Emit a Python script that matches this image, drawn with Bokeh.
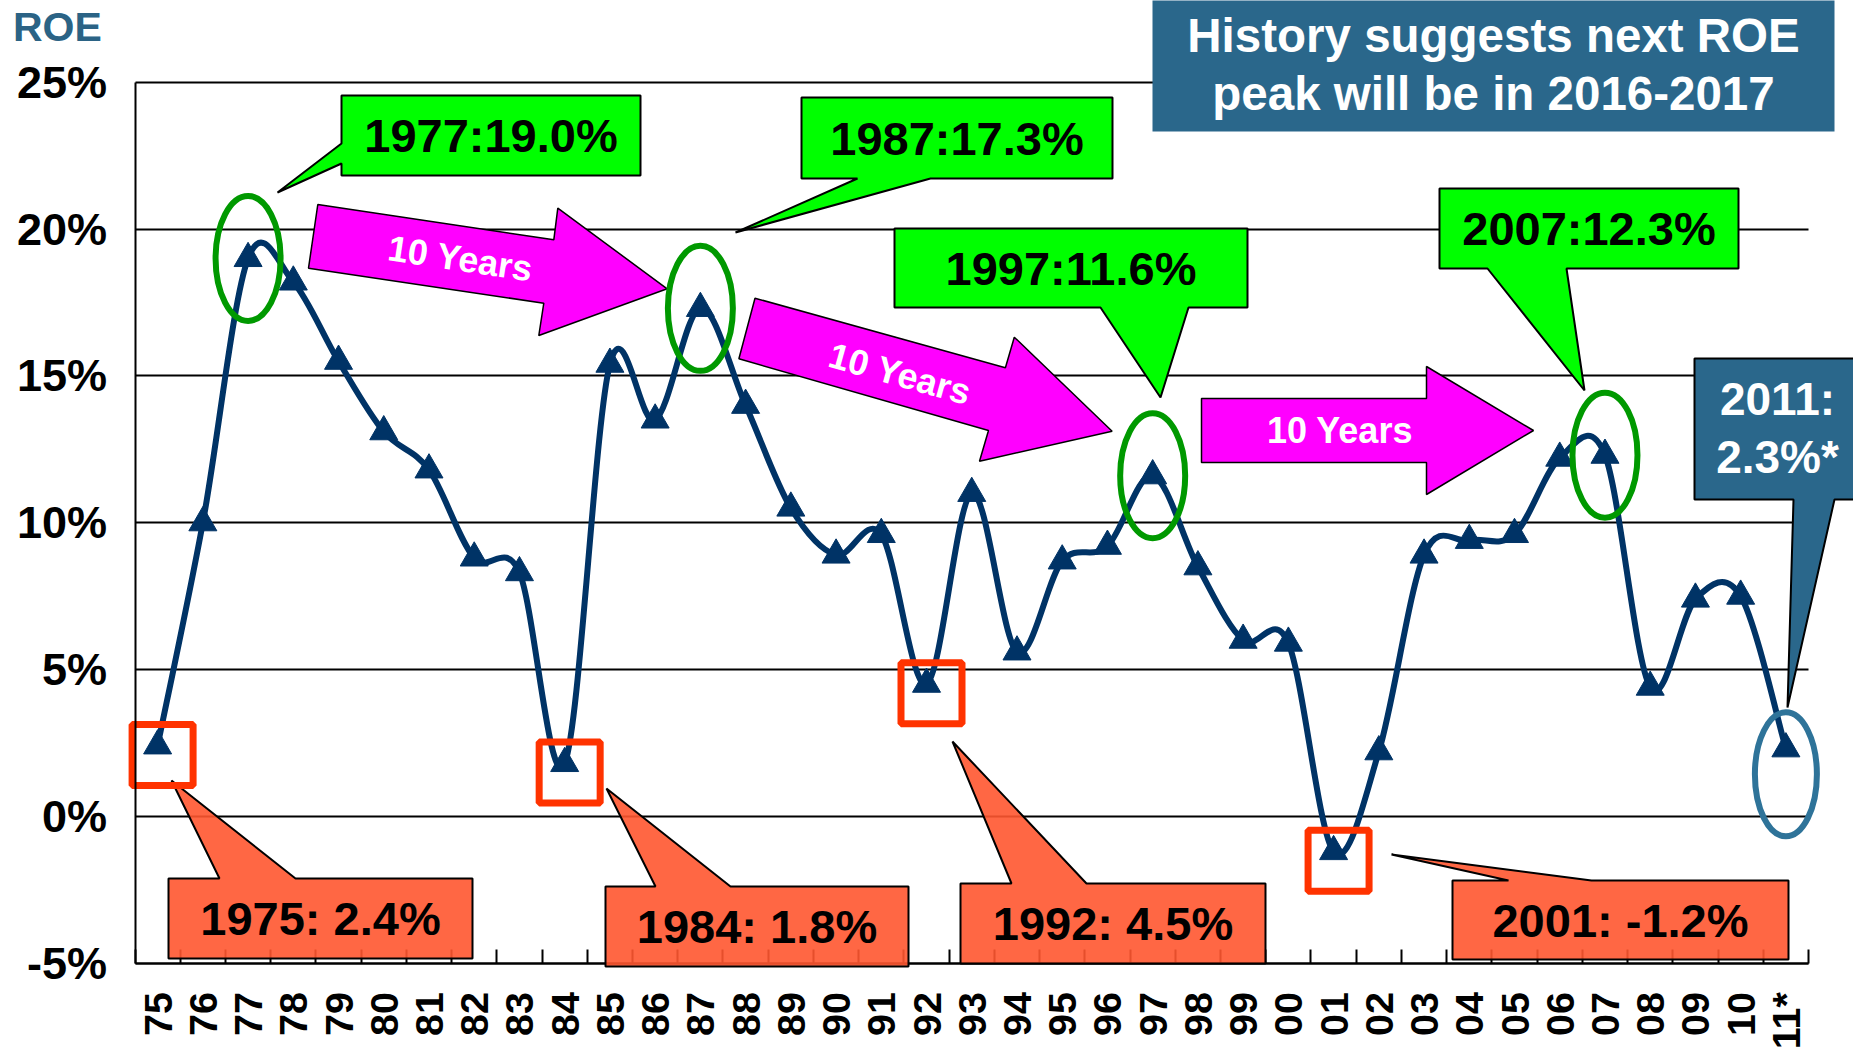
import numpy as np
from bokeh.plotting import figure
from bokeh.models import Range1d, FixedTicker
from bokeh.core.properties import value
from bokeh.embed import file_html
from bokeh.resources import INLINE

# ---------------- data ----------------
years = ["75", "76", "77", "78", "79", "80", "81", "82", "83", "84", "85", "86",
         "87", "88", "89", "90", "91", "92", "93", "94", "95", "96", "97", "98",
         "99", "00", "01", "02", "03", "04", "05", "06", "07", "08", "09", "10", "11*"]
full_years = [1975 + i for i in range(len(years))]
roe = [2.4, 10.0, 19.0, 18.2, 15.5, 13.1, 11.8, 8.8, 8.3, 1.8, 15.4, 13.5,
       17.3, 14.0, 10.5, 8.9, 9.6, 4.5, 11.0, 5.6, 8.7, 9.2, 11.6, 8.5,
       6.0, 5.9, -1.2, 2.2, 8.9, 9.4, 9.6, 12.2, 12.3, 4.4, 7.4, 7.5, 2.3]
y_ticks = [-5, 0, 5, 10, 15, 20, 25]
y_tick_labels = ["-5%", "0%", "5%", "10%", "15%", "20%", "25%"]

peak_years = ["77", "87", "97", "07"]
trough_years = ["75", "84", "92", "01"]
latest_year = "11*"
arrow_text = "10 Years"
title_lines = ["History suggests next ROE", "peak will be in 2016-2017"]
axis_title = "ROE"

# ---------------- layout (page pixels) ----------------
LEFT, BAND, TOP25, PPP = 134.5, 45.23, 81.8, 29.36
W, H = 1853, 1052
ORIGIN = 0


def dx(px):
    return (px - LEFT) / BAND - 0.5


def dy(py):
    return 25 - (py - TOP25) / PPP


def poly(pts):
    return [dx(a) for a, b in pts], [dy(b) for a, b in pts]


NAVY = "#003366"
GREEN_FILL = "#00FF00"
ORANGE_FILL = "#FF5730"
MAGENTA = "#FF00FF"
STEEL = "#2A678B"
FONT = "Liberation Sans"

green_boxes = [
    [(341, 95), (640, 95), (640, 175), (341, 175), (341, 163), (277, 192), (341, 143)],
    [(801, 97), (1112, 97), (1112, 178), (930, 178), (735, 232), (857, 178), (801, 178)],
    [(894, 228), (1247, 228), (1247, 307), (1188, 307), (1160, 397), (1100, 307), (894, 307)],
    [(1439, 188), (1738, 188), (1738, 268), (1566, 268), (1584, 390), (1487, 268), (1439, 268)],
]
green_text_pos = [(490.5, 135), (956.5, 137.5), (1070.5, 267.5), (1588.5, 228)]

orange_boxes = [
    [(168, 878), (219, 878), (171, 780), (295, 878), (472, 878), (472, 958), (168, 958)],
    [(605, 886), (655, 886), (606, 788), (730, 886), (908, 886), (908, 966), (605, 966)],
    [(960, 883), (1011, 883), (952, 741), (1086, 883), (1265, 883), (1265, 963), (960, 963)],
    [(1452, 880), (1508, 880), (1391, 854), (1591, 880), (1788, 880), (1788, 959), (1452, 959)],
]
orange_text_pos = [(320, 918), (756.5, 926), (1112.5, 923), (1620, 919.5)]

blue_box = [(1694, 358), (1860, 358), (1860, 499), (1834, 499), (1787, 707), (1793, 499), (1694, 499)]
blue_text_pos = [(1777, 398.5), (1777, 456.8)]
title_box = [(1152, -10), (1834, -10), (1834, 131), (1152, 131)]
title_text_pos = [(1493, 35), (1493, 93)]

arrows = [
    [(317.3, 204), (553.3, 239.3), (557.3, 207.7), (666.7, 288.3), (538.3, 335), (543.3, 302.7), (308, 267.7)],
    [(754.5, 297.7), (1004.9, 367.3), (1013.8, 336.7), (1111.6, 430.7), (979, 460.7), (988, 430), (738.4, 358.3)],
    [(1201, 398), (1426, 398), (1426, 366), (1533, 430), (1426, 494), (1426, 462), (1201, 462)],
]
arrow_text_pos = [(460, 258), (899.7, 373.3), (1339.5, 430.4)]
arrow_angles = [np.radians(-8.5), np.radians(-15.5), 0.0]
roe_label_pos = (12.5, 26.0)

# ---------------- figure ----------------
p = figure(width=W, height=H,
           x_range=Range1d(dx(ORIGIN), dx(ORIGIN + W)),
           y_range=Range1d(dy(ORIGIN + H), dy(ORIGIN)),
           output_backend="svg", toolbar_location=None, min_border=0)
p.outline_line_color = None
p.background_fill_color = "white"
p.border_fill_color = "white"

n = len(years)
xs = np.arange(n, dtype=float)
ys = np.array(roe, dtype=float)

# axes
p.xaxis.fixed_location = -5
p.yaxis.fixed_location = -0.5
p.xaxis.bounds = (-0.5, n - 0.5)
p.yaxis.bounds = (y_ticks[0], y_ticks[-1])
p.xaxis.ticker = FixedTicker(ticks=list(range(n)), minor_ticks=[i - 0.5 for i in range(n + 1)])
p.xaxis.major_label_overrides = {i: years[i] for i in range(n)}
p.xaxis.major_label_orientation = np.pi / 2
p.xaxis.major_tick_in = 0
p.xaxis.major_tick_out = 0
p.xaxis.minor_tick_in = 14
p.xaxis.minor_tick_out = 0
p.xaxis.minor_tick_line_color = "black"
p.xaxis.minor_tick_line_width = 2
p.xaxis.major_label_standoff = 29
p.xaxis.level = "underlay"

p.yaxis.ticker = FixedTicker(ticks=y_ticks)
p.yaxis.major_label_overrides = {t: l for t, l in zip(y_ticks, y_tick_labels)}
p.yaxis.major_tick_in = 0
p.yaxis.major_tick_out = 0
p.yaxis.minor_tick_line_color = None
p.yaxis.major_label_standoff = 28

for ax, size in ((p.xaxis, "39.5px"), (p.yaxis, "45px")):
    ax.axis_line_color = "black"
    ax.axis_line_width = 2
    ax.major_label_text_font = FONT
    ax.major_label_text_font_style = "bold"
    ax.major_label_text_font_size = size
    ax.major_label_text_color = "black"

p.xgrid.visible = False
p.ygrid.grid_line_color = "black"
p.ygrid.grid_line_width = 2
try:
    p.ygrid.cross_bounds = (-0.5, n - 0.5)
except Exception:
    pass

# title box and callouts
tx, ty = poly(title_box)
p.patch(tx, ty, fill_color=STEEL, line_color=None)

axs, ays = zip(*[poly(a) for a in arrows])
p.patches(list(axs), list(ays), fill_color=MAGENTA, line_color="black", line_width=1.5)

gxs, gys = zip(*[poly(b) for b in green_boxes])
p.patches(list(gxs), list(gys), fill_color=GREEN_FILL, line_color="black", line_width=2)

oxs, oys = zip(*[poly(b) for b in orange_boxes])
p.patches(list(oxs), list(oys), fill_color=ORANGE_FILL, fill_alpha=0.9, line_color="black", line_width=2)

bx, by = poly(blue_box)
p.patch(bx, by, fill_color=STEEL, line_color="black", line_width=2)

# smoothed ROE line (Bezier through the data points)
x0, y0, x1, y1, c0x, c0y, c1x, c1y = ([] for _ in range(8))
for i in range(n - 1):
    pa = np.array([xs[max(i - 1, 0)], ys[max(i - 1, 0)]])
    pb = np.array([xs[i], ys[i]])
    pc = np.array([xs[i + 1], ys[i + 1]])
    pd = np.array([xs[min(i + 2, n - 1)], ys[min(i + 2, n - 1)]])
    c1 = pb + (pc - pa) / 6.0
    c2 = pc - (pd - pb) / 6.0
    x0.append(pb[0]); y0.append(pb[1]); x1.append(pc[0]); y1.append(pc[1])
    c0x.append(c1[0]); c0y.append(c1[1]); c1x.append(c2[0]); c1y.append(c2[1])
p.bezier(x0=x0, y0=y0, x1=x1, y1=y1, cx0=c0x, cy0=c0y, cx1=c1x, cy1=c1y,
         line_color=NAVY, line_width=6, line_cap="round")
p.scatter(xs, ys, marker="triangle", size=28, fill_color=NAVY, line_color=NAVY)

# highlight ellipses and squares (anchored on the data points)
pk = [years.index(yv) for yv in peak_years]
p.ellipse(x=[xs[i] for i in pk], y=[ys[i] for i in pk], width=65, height=125,
          width_units="screen", height_units="screen",
          fill_color=None, line_color="#009900", line_width=6)
li = years.index(latest_year)
p.ellipse(x=[xs[li]], y=[ys[li] - 0.87], width=62, height=124,
          width_units="screen", height_units="screen",
          fill_color=None, line_color="#2E7399", line_width=6)
tr = [years.index(yv) for yv in trough_years]
p.rect(x=[xs[i] + 0.11 for i in tr], y=[ys[i] - 0.31 for i in tr], width=61, height=61,
       width_units="screen", height_units="screen",
       fill_color=None, line_color="#FF3300", line_width=7)

# texts
green_labels = [f"{full_years[i]}:{roe[i]:.1f}%" for i in pk]
orange_labels = [f"{full_years[i]}: {roe[i]:.1f}%" for i in tr]
blue_labels = [f"{full_years[li]}:", f"{roe[li]:.1f}%*"]

common = dict(text_font=value(FONT), text_font_style="bold", text_align="center", text_baseline="middle")
p.text(x=[dx(a) for a, b in green_text_pos], y=[dy(b) for a, b in green_text_pos], text=green_labels,
       text_font_size="47px", text_color="black", **common)
p.text(x=[dx(a) for a, b in orange_text_pos], y=[dy(b) for a, b in orange_text_pos], text=orange_labels,
       text_font_size="47px", text_color="black", **common)
p.text(x=[dx(a) for a, b in blue_text_pos], y=[dy(b) for a, b in blue_text_pos], text=blue_labels,
       text_font_size="46px", text_color="white", **common)
p.text(x=[dx(a) for a, b in title_text_pos], y=[dy(b) for a, b in title_text_pos], text=title_lines,
       text_font_size="47.5px", text_color="white", **common)
p.text(x=[dx(a) for a, b in arrow_text_pos], y=[dy(b) for a, b in arrow_text_pos],
       text=[arrow_text] * len(arrows), angle=arrow_angles,
       text_font_size="36px", text_color="white", **common)
p.text(x=[dx(roe_label_pos[0])], y=[dy(roe_label_pos[1])], text=[axis_title], text_font=value(FONT),
       text_font_style="bold", text_font_size="41px", text_color="#2B6385",
       text_align="left", text_baseline="middle")

open("out.html", "w").write(file_html(p, INLINE))
